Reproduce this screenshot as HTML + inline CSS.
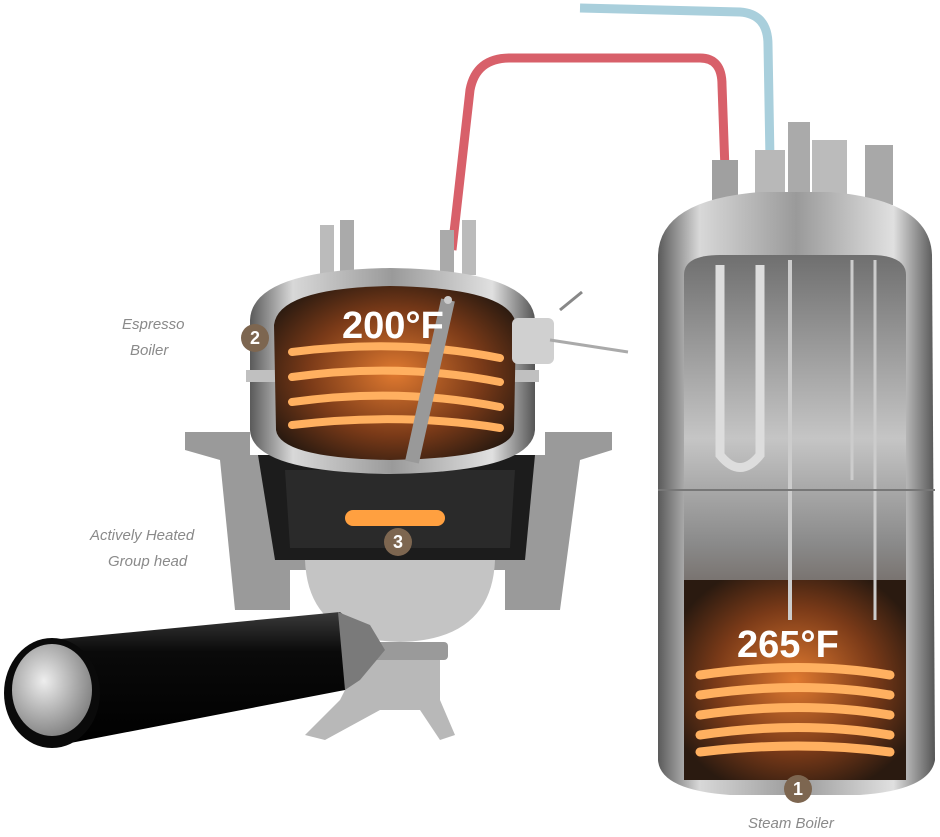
<!DOCTYPE html>
<html><head><meta charset="utf-8"><style>
html,body{margin:0;padding:0;background:#fff;}
svg{display:block}
.lbl{font-family:"Liberation Sans",sans-serif;fill:#8a8a8a;font-size:15px;font-style:italic}
.big{font-family:"Liberation Sans",sans-serif;font-weight:bold;fill:#fff;font-size:38px}
.num{font-family:"Liberation Sans",sans-serif;font-weight:bold;fill:#fff;font-size:18px}
</style></head><body>
<svg width="940" height="837" viewBox="0 0 940 837" xmlns="http://www.w3.org/2000/svg">
<defs>
<linearGradient id="steel" x1="0" x2="1">
<stop offset="0" stop-color="#5a5a5a"/><stop offset="0.15" stop-color="#d8d8d8"/><stop offset="0.5" stop-color="#9a9a9a"/><stop offset="0.85" stop-color="#e0e0e0"/><stop offset="1" stop-color="#555"/></linearGradient>
<linearGradient id="inner" x1="0" x2="0" y1="0" y2="1">
<stop offset="0" stop-color="#6f6f6f"/><stop offset="0.35" stop-color="#c5c5c5"/><stop offset="0.55" stop-color="#8a8a8a"/><stop offset="0.75" stop-color="#5a4a40"/><stop offset="1" stop-color="#3a2010"/></linearGradient>
<radialGradient id="glow" cx="0.5" cy="0.5" r="0.6">
<stop offset="0" stop-color="#e07a30"/><stop offset="0.6" stop-color="#7a3a18"/><stop offset="1" stop-color="#2a1a10"/></radialGradient>
<linearGradient id="handle" x1="0" x2="0" y1="0" y2="1">
<stop offset="0" stop-color="#3a3a3a"/><stop offset="0.3" stop-color="#0a0a0a"/><stop offset="1" stop-color="#000"/></linearGradient>
<radialGradient id="cap" cx="0.4" cy="0.4" r="0.7"><stop offset="0" stop-color="#eee"/><stop offset="1" stop-color="#777"/></radialGradient>
</defs>
<!-- tubes -->
<path d="M580 8 L740 12 Q768 14 768 45 L770 160" fill="none" stroke="#a9cfdc" stroke-width="9"/>
<path d="M452 250 L470 90 Q476 58 510 58 L700 58 Q722 58 722 85 L725 170" fill="none" stroke="#d8606a" stroke-width="9"/>
<!-- steam boiler fittings -->
<rect x="712" y="160" width="26" height="40" fill="#a0a0a0"/>
<rect x="755" y="150" width="30" height="50" fill="#b8b8b8"/>
<rect x="788" y="122" width="22" height="80" fill="#aaa"/>
<rect x="812" y="140" width="35" height="60" fill="#bbb"/>
<rect x="865" y="145" width="28" height="60" fill="#a8a8a8"/>
<path d="M658 255 Q660 200 760 192 L830 192 Q930 200 932 255 L935 760 Q930 790 860 795 L730 795 Q660 790 658 760 Z" fill="url(#steel)"/>
<path d="M684 275 Q684 255 720 255 L870 255 Q906 255 906 275 L906 780 L684 780 Z" fill="url(#inner)"/>
<rect x="684" y="580" width="222" height="200" fill="url(#glow)"/>
<path d="M720 265 L720 455 Q740 480 760 455 L760 265" fill="none" stroke="#ddd" stroke-width="9"/>
<line x1="790" y1="260" x2="790" y2="620" stroke="#ccc" stroke-width="4"/>
<line x1="852" y1="260" x2="852" y2="480" stroke="#ccc" stroke-width="3"/>
<line x1="875" y1="260" x2="875" y2="620" stroke="#ccc" stroke-width="3"/>
<line x1="658" y1="490" x2="935" y2="490" stroke="#777" stroke-width="2"/>
<g fill="none" stroke="#ffb060" stroke-width="9" stroke-linecap="round">
<path d="M700 675 Q800 660 890 675"/><path d="M700 695 Q800 680 890 695"/><path d="M700 715 Q800 700 890 715"/><path d="M700 735 Q800 720 890 735"/><path d="M700 752 Q800 740 890 752"/></g>
<text x="737" y="657" class="big">265°F</text>
<circle cx="798" cy="789" r="14" fill="#7d6650"/><text x="798" y="795" text-anchor="middle" class="num">1</text>
<text x="748" y="828" class="lbl">Steam Boiler</text>
<!-- group head (behind boiler) -->
<path d="M185 432 L250 432 L250 455 L300 455 L300 440 L490 440 L490 455 L545 455 L545 432 L612 432 L612 450 L580 460 L560 610 L505 610 L505 570 L290 570 L290 610 L235 610 L220 460 L185 450 Z" fill="#9a9a9a"/>
<path d="M258 455 L535 455 L525 560 L275 560 Z" fill="#1c1c1c"/>
<path d="M285 470 L515 470 L510 548 L290 548 Z" fill="#2a2a2a"/>
<rect x="345" y="510" width="100" height="16" rx="8" fill="#ffa040"/>
<path d="M305 560 L495 560 Q492 640 400 642 Q308 640 305 560 Z" fill="#c4c4c4"/>
<circle cx="398" cy="542" r="14" fill="#7d6650"/><text x="398" y="548" text-anchor="middle" class="num">3</text>
<text x="90" y="540" class="lbl">Actively Heated</text><text x="108" y="566" class="lbl">Group head</text>
<!-- espresso boiler -->
<rect x="320" y="225" width="14" height="50" fill="#bbb"/><rect x="340" y="220" width="14" height="55" fill="#aaa"/>
<rect x="440" y="230" width="14" height="45" fill="#aaa"/><rect x="462" y="220" width="14" height="55" fill="#bbb"/>
<path d="M250 320 Q252 270 390 268 Q532 270 535 320 L535 430 Q532 472 390 474 Q252 472 250 430 Z" fill="url(#steel)"/>
<rect x="246" y="370" width="293" height="12" fill="#c0c0c0"/>
<path d="M274 325 Q278 288 390 286 Q512 288 516 325 L514 430 Q510 458 390 460 Q280 458 276 430 Z" fill="url(#glow)"/>
<g fill="none" stroke="#ffb060" stroke-width="8" stroke-linecap="round">
<path d="M292 352 Q400 338 500 358"/><path d="M292 377 Q400 362 500 382"/><path d="M292 402 Q400 387 500 407"/><path d="M292 425 Q400 412 500 428"/></g>
<line x1="448" y1="300" x2="412" y2="462" stroke="#999" stroke-width="14"/>
<circle cx="448" cy="300" r="4" fill="#ccc"/>
<rect x="512" y="318" width="42" height="46" rx="6" fill="#d0d0d0"/>
<line x1="550" y1="340" x2="628" y2="352" stroke="#aaa" stroke-width="3"/>
<line x1="560" y1="310" x2="582" y2="292" stroke="#888" stroke-width="3"/>
<text x="342" y="338" class="big">200°F</text>
<circle cx="255" cy="338" r="14" fill="#7d6650"/><text x="255" y="344" text-anchor="middle" class="num">2</text>
<text x="122" y="329" class="lbl">Espresso</text><text x="130" y="355" class="lbl">Boiler</text>
<!-- spout -->
<rect x="348" y="642" width="100" height="18" rx="4" fill="#9a9a9a"/>
<path d="M360 660 L440 660 L440 700 L455 735 L440 740 L420 710 L380 710 L325 740 L305 735 L340 700 Z" fill="#b8b8b8"/>
<!-- handle -->
<path d="M50 640 L340 612 L375 640 L345 690 L60 745 Z" fill="url(#handle)"/>
<path d="M338 612 L370 625 L385 650 L360 680 L345 690 Z" fill="#7a7a7a"/>
<ellipse cx="52" cy="693" rx="48" ry="55" fill="#0a0a0a"/>
<ellipse cx="52" cy="690" rx="40" ry="46" fill="url(#cap)"/>
</svg>
</body></html>
